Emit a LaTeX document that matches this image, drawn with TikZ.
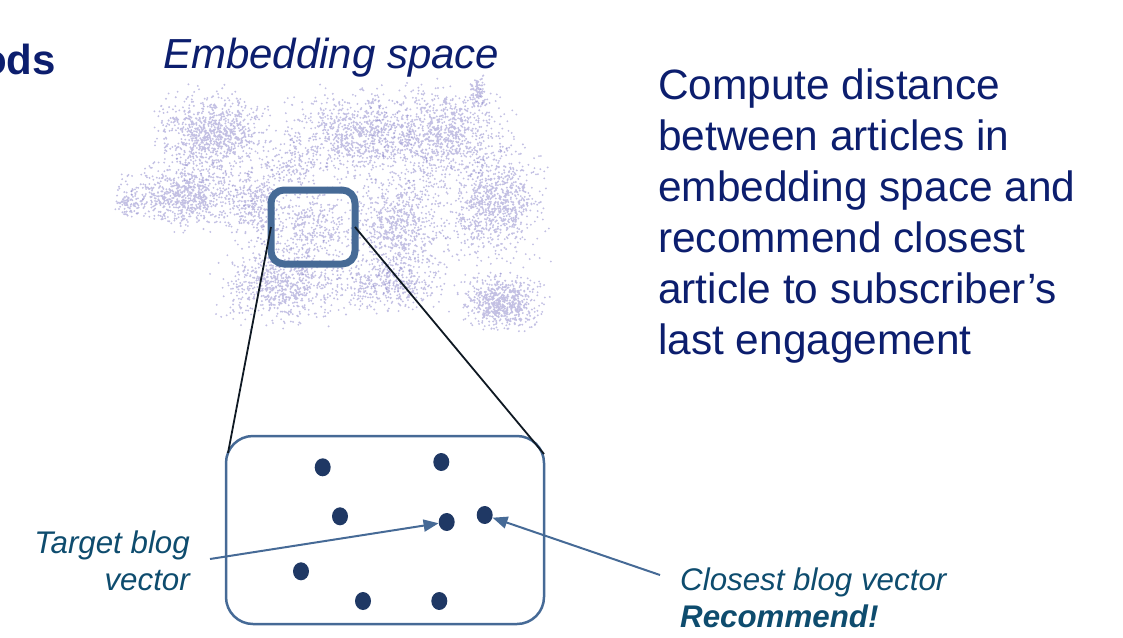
\documentclass[tikz,border=0pt]{standalone}
\usepackage{fontspec}
\setmainfont{Liberation Sans}
\usetikzlibrary{arrows.meta,shapes.geometric}
\definecolor{navy}{RGB}{12,30,110}
\definecolor{dotc}{RGB}{31,56,100}
\definecolor{steel}{RGB}{70,106,150}
\definecolor{labc}{RGB}{14,76,110}
\definecolor{linec}{RGB}{15,25,35}
\definecolor{lav}{RGB}{135,130,200}
\newcommand{\cloudblob}[5]{\fill[lav, fill opacity=0.5] \foreach \k in {1,...,#5}{ ({#1+#3*(rand+rand+rand)},{#2+#4*(rand+rand+rand)}) circle[radius=1.05] };}
\begin{document}
\begin{tikzpicture}[x=1pt,y=-1pt,
  vec/.style={ellipse, fill=dotc, inner sep=0pt, minimum width=16pt, minimum height=18pt},
  arr/.style={steel, line width=2pt, -{Triangle[length=15pt,width=12pt]}},
  zoomline/.style={linec, line width=1.8pt},
  lab/.style={labc, inner sep=0pt, font=\fontsize{31.3}{36.5}\selectfont\itshape}]
\useasboundingbox (0,0) rectangle (1123,637);
\pgfmathsetseed{4242}
% embedding cloud
\cloudblob{212}{135}{24}{19}{900}
\cloudblob{185}{195}{27}{14}{750}
\cloudblob{128}{203}{6}{6}{70}
\cloudblob{255}{205}{12}{18}{280}
\cloudblob{282}{282}{28}{19}{750}
\cloudblob{313}{227}{20}{18}{350}
\cloudblob{355}{135}{28}{19}{800}
\cloudblob{440}{135}{30}{21}{900}
\cloudblob{478}{92}{4}{7}{90}
\cloudblob{492}{205}{22}{24}{850}
\cloudblob{400}{225}{22}{28}{750}
\cloudblob{390}{285}{24}{12}{380}
\cloudblob{502}{302}{17}{12}{650}
\cloudblob{295}{165}{15}{15}{180}
% texts
\node[navy, anchor=base east, inner sep=0pt, font=\fontsize{42}{50}\selectfont\bfseries] (ttl) at (56,74) {ods};
\node[navy, anchor=base west, inner sep=0pt, font=\fontsize{42}{50}\selectfont\itshape] (emb) at (163,68) {Embedding space};
\node[navy, anchor=north west, inner sep=0pt, align=left, font=\fontsize{42.4}{51}\selectfont] (desc) at (658,69)
  {Compute distance\\between articles in\\embedding space and\\recommend closest\\article to subscriber’s\\last engagement};
% boxes
\node[draw=steel, line width=7pt, rounded corners=13pt, minimum width=84pt, minimum height=74pt, outer sep=0pt] (sbox) at (313,227) {};
\node[draw=steel, line width=2.5pt, rounded corners=27pt, minimum width=318pt, minimum height=188pt, outer sep=0pt] (bbox) at (385,530) {};
\draw[zoomline] (sbox.west) -- ([xshift=2pt,yshift=-17pt]bbox.north west);
\draw[zoomline] (sbox.east) -- ([yshift=-18pt]bbox.north east);
% vectors
\node[vec] (v1) at (322.7,467.3) {};
\node[vec] (v2) at (441.3,462) {};
\node[vec] (v3) at (340,516.3) {};
\node[vec] (v4) at (446.7,522) {};
\node[vec] (v5) at (484.7,515) {};
\node[vec] (v6) at (301,571.3) {};
\node[vec] (v7) at (363,601) {};
\node[vec] (v8) at (439.3,601) {};
% labels and arrows
\node[lab, anchor=north east, align=right] (tlab) at (190,531) {Target blog\\vector};
\node[lab, anchor=north west, align=left] (clab) at (680,568) {Closest blog vector\\\textbf{Recommend!}};
\coordinate (ta) at (210,559);
\coordinate (ca) at (660,575);
\draw[arr] (ta) -- (v4);
\draw[arr] (ca) -- (v5);
\end{tikzpicture}
\end{document}
